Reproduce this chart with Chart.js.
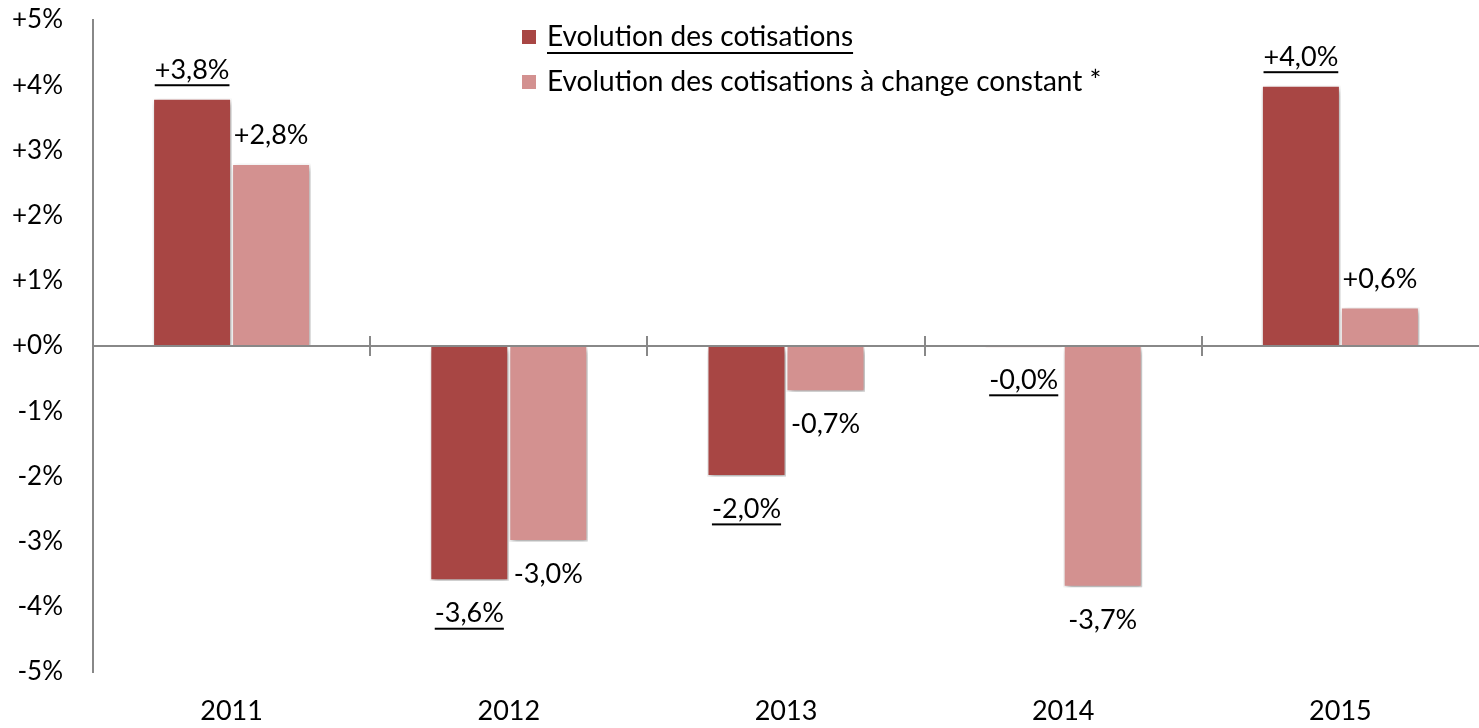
<!DOCTYPE html>
<html>
<head>
<meta charset="utf-8">
<script src="https://cdn.jsdelivr.net/npm/chart.js@4.4.1/dist/chart.umd.min.js"></script>
<style>
  html,body{margin:0;padding:0;background:#fff;}
  #wrap{width:1479px;height:728px;position:relative;}
</style>
</head>
<body>
<div id="wrap"><canvas id="c"></canvas></div>
<script>
// ── données ─────────────────────────────
const years=['2011','2012','2013','2014','2015'];
const cotis=[3.8,-3.6,-2.0,-0.02,4.0];
const cotisCst=[2.8,-3.0,-0.7,-3.7,0.6];
const serieNames=['Evolution des cotisations','Evolution des cotisations à change constant *'];
const yTicks=[5,4,3,2,1,0,-1,-2,-3,-4,-5];

const FONT='Lato, "Open Sans", sans-serif';
const colDark='#a84644', colLight='#d39190', axisCol='#888888';

// ── étiquettes de valeurs ────────────────
const labelsPlugin={
  id:'vlabels',
  afterDatasetsDraw(chart){
    const ctx=chart.ctx;
    ctx.save();
    ctx.font='27px '+FONT;ctx.fillStyle='#000';ctx.textAlign='center';ctx.textBaseline='middle';
    chart.data.datasets.forEach((ds,di)=>{
      const meta=chart.getDatasetMeta(di);
      meta.data.forEach((bar,i)=>{
        const v=ds.data[i];
        const txt=(v<0?'-':'+')+Math.abs(v).toFixed(1).replace('.',',')+'%';
        const y=v>=0?bar.y-28:bar.y+33;
        ctx.fillText(txt,bar.x,y);
        if(di===0){
          const w=ctx.measureText(txt).width;
          ctx.fillRect(bar.x-w/2,y+14,w,2);
        }
      });
    });
    ctx.restore();
  }
};

// ── axe zéro + graduations ───────────────
const axisPlugin={
  id:'zeroaxis',
  beforeDatasetsDraw(chart){
    const {ctx,scales:{x,y}}=chart;
    const y0=y.getPixelForValue(0);
    ctx.save();
    ctx.strokeStyle=axisCol;ctx.lineWidth=2;
    ctx.beginPath();
    for(let i=0;i<years.length-1;i++){
      const xx=Math.round((x.getPixelForValue(i)+x.getPixelForValue(i+1))/2);
      ctx.moveTo(xx,y0-10);ctx.lineTo(xx,y0+10);
    }
    ctx.stroke();
    ctx.restore();
  }
};

// ── ombre des barres ─────────────────────
const shadowPlugin={
  id:'shadow',
  beforeDatasetDraw(chart){
    const ctx=chart.ctx;ctx.save();
    ctx.shadowColor='rgba(0,0,0,0.35)';ctx.shadowBlur=6;ctx.shadowOffsetX=2;ctx.shadowOffsetY=3;
  },
  afterDatasetDraw(chart){chart.ctx.restore();}
};

// ── légende ─────────────────────────────
const legendPlugin={
  id:'leg',
  afterDraw(chart){
    const ctx=chart.ctx;
    ctx.save();
    ctx.font='28px '+FONT;ctx.textBaseline='middle';ctx.textAlign='left';
    [colDark,colLight].forEach((c,i)=>{
      const cy=37+i*45;
      ctx.fillStyle=c;ctx.fillRect(522,cy-7,14,14);
      ctx.fillStyle='#000';ctx.fillText(serieNames[i],547,cy);
      if(i===0){const w=ctx.measureText(serieNames[i]).width;ctx.fillRect(547,cy+15,w,2);}
    });
    ctx.restore();
  }
};

new Chart(document.getElementById('c'),{
  type:'bar',
  data:{labels:years,datasets:[
    {label:serieNames[0],data:cotis,backgroundColor:colDark,borderColor:'#fff',borderWidth:1.5,borderSkipped:'start',categoryPercentage:0.57,barPercentage:1},
    {label:serieNames[1],data:cotisCst,backgroundColor:colLight,borderColor:'#fff',borderWidth:1.5,borderSkipped:'start',categoryPercentage:0.57,barPercentage:1}
  ]},
  options:{
    responsive:true,maintainAspectRatio:false,animation:false,
    layout:{padding:{top:20,right:0,left:0,bottom:0}},
    plugins:{legend:{display:false},tooltip:{enabled:false}},
    scales:{
      x:{
        grid:{display:false,drawTicks:false},border:{display:false},
        ticks:{font:{family:FONT,size:27},color:'#000',padding:23},
        afterFit:s=>{s.height=56;s.paddingLeft=0;s.paddingRight=0;}
      },
      y:{
        min:-5,max:5,
        afterBuildTicks:s=>{s.ticks=yTicks.map(v=>({value:v}));},
        grid:{drawTicks:false,lineWidth:2,color:c=>c.tick&&c.tick.value===0?axisCol:'transparent'},
        border:{display:true,color:axisCol,width:2},
        ticks:{font:{family:FONT,size:26},color:'#000',padding:30,callback:v=>(v>=0?'+':'')+v+'%'},
        afterFit:s=>{s.width=93;s.paddingTop=0;s.paddingBottom=0;}
      }
    }
  },
  plugins:[shadowPlugin,axisPlugin,labelsPlugin,legendPlugin]
});
</script>
</body>
</html>
